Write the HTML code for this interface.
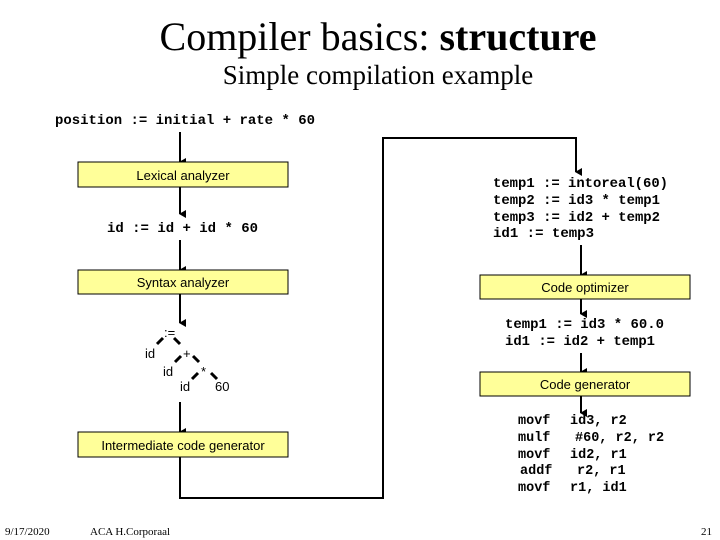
<!DOCTYPE html>
<html><head><meta charset="utf-8"><style>
html,body{margin:0;padding:0;background:#fff;width:720px;height:540px;overflow:hidden}
.m{font-family:"Liberation Mono",monospace;font-weight:bold;font-size:13.5px}
.s{font-family:"Liberation Sans",sans-serif;font-size:13px}
.t{font-family:"Liberation Serif",serif}
</style></head><body>
<svg width="720" height="540" xmlns="http://www.w3.org/2000/svg">
<defs><marker id="a" markerWidth="8" markerHeight="8" refX="4" refY="7" orient="auto" markerUnits="userSpaceOnUse"><path d="M0,1 L8,1 L4,8 z" fill="#000"/></marker></defs>
<text class="t" x="378" y="50" font-size="40" text-anchor="middle">Compiler basics: <tspan font-weight="bold">structure</tspan></text>
<text class="t" x="378" y="84" font-size="27" text-anchor="middle">Simple compilation example</text>
<text class="m" x="55" y="124" textLength="260" lengthAdjust="spacingAndGlyphs">position := initial + rate * 60</text>
<g stroke="#000" stroke-width="2" fill="none">
<line x1="180" y1="132" x2="180" y2="162" marker-end="url(#a)"/>
<line x1="180" y1="187" x2="180" y2="214" marker-end="url(#a)"/>
<line x1="180" y1="240" x2="180" y2="270" marker-end="url(#a)"/>
<line x1="180" y1="294" x2="180" y2="323" marker-end="url(#a)"/>
<line x1="180" y1="402" x2="180" y2="432" marker-end="url(#a)"/>
<polyline points="180,457 180,498 383,498 383,138 576,138 576,172" marker-end="url(#a)"/>
<line x1="581" y1="245" x2="581" y2="275" marker-end="url(#a)"/>
<line x1="581" y1="299" x2="581" y2="314" marker-end="url(#a)"/>
<line x1="581" y1="353" x2="581" y2="372" marker-end="url(#a)"/>
<line x1="581" y1="396" x2="581" y2="413" marker-end="url(#a)"/>
</g>
<g fill="#ffff99" stroke="#000" stroke-width="1">
<rect x="78" y="162" width="210" height="25"/>
<rect x="78" y="270" width="210" height="24"/>
<rect x="78" y="432" width="210" height="25"/>
<rect x="480" y="275" width="210" height="24"/>
<rect x="480" y="372" width="210" height="24"/>
</g>
<text class="s" x="183" y="180" text-anchor="middle">Lexical analyzer</text>
<text class="s" x="183" y="287" text-anchor="middle">Syntax analyzer</text>
<text class="s" x="183" y="450" text-anchor="middle">Intermediate code generator</text>
<text class="s" x="585" y="292" text-anchor="middle">Code optimizer</text>
<text class="s" x="585" y="389" text-anchor="middle">Code generator</text>
<text class="m" x="107" y="232" textLength="151" lengthAdjust="spacingAndGlyphs">id := id + id * 60</text>
<g class="s" font-size="11">
<text x="164" y="337">:=</text>
<text x="145" y="358">id</text>
<text x="183" y="358">+</text>
<text x="163" y="376">id</text>
<text x="201" y="376">*</text>
<text x="180" y="391">id</text>
<text x="215" y="391">60</text>
</g>
<g stroke="#000" stroke-width="3">
<line x1="157" y1="344" x2="163" y2="338"/><line x1="174" y1="338" x2="180" y2="344"/>
<line x1="175" y1="362" x2="181" y2="356"/><line x1="193" y1="356" x2="199" y2="362"/>
<line x1="192" y1="379" x2="198" y2="373"/><line x1="211" y1="373" x2="217" y2="379"/>
</g>
<g class="m">
<text x="493" y="187" textLength="175" lengthAdjust="spacingAndGlyphs">temp1 := intoreal(60)</text>
<text x="493" y="204" textLength="167" lengthAdjust="spacingAndGlyphs">temp2 := id3 * temp1</text>
<text x="493" y="221" textLength="167" lengthAdjust="spacingAndGlyphs">temp3 := id2 + temp2</text>
<text x="493" y="237" textLength="101" lengthAdjust="spacingAndGlyphs">id1 := temp3</text>
<text x="505" y="328" textLength="159" lengthAdjust="spacingAndGlyphs">temp1 := id3 * 60.0</text>
<text x="505" y="345" textLength="150" lengthAdjust="spacingAndGlyphs">id1 := id2 + temp1</text>
<text x="518" y="424">movf</text><text x="570" y="424">id3, r2</text>
<text x="518" y="441">mulf</text><text x="575" y="441">#60, r2, r2</text>
<text x="518" y="458">movf</text><text x="570" y="458">id2, r1</text>
<text x="520" y="474">addf</text><text x="577" y="474">r2, r1</text>
<text x="518" y="491">movf</text><text x="570" y="491">r1, id1</text>
</g>
<g class="t" font-size="11">
<text x="5" y="535">9/17/2020</text>
<text x="90" y="535">ACA H.Corporaal</text>
<text x="712" y="535" text-anchor="end">21</text>
</g>
</svg>
</body></html>
